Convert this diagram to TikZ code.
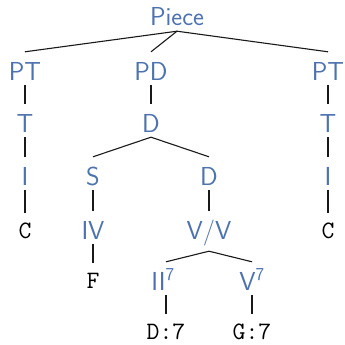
\documentclass[tikz,border=0pt]{standalone}
\usepackage{fontspec}
\definecolor{nodeblue}{RGB}{76,114,176}
\begin{document}
\begin{tikzpicture}[x=1pt,y=-1pt,
  inner/.style={anchor=base,inner sep=0pt,text height=28pt,text depth=5pt,
    text=nodeblue,font=\sffamily\fontsize{26}{30}\selectfont},
  leaf/.style={anchor=base,inner sep=0pt,text height=25pt,text depth=3pt,
    text=black,font=\ttfamily\fontsize{25}{30}\selectfont},
  edge/.style={draw=black!90,line width=1.1pt}]
\useasboundingbox (0,0) rectangle (345,345);
% row 1
\node[inner] (piece) at (177,26) {Piece};
% row 2
\node[inner] (ptl) at (25,80) {PT};
\node[inner] (pd) at (151,80) {PD};
\node[inner] (ptr) at (328,80) {PT};
% row 3
\node[inner] (tl) at (25,132) {T};
\node[inner] (d1) at (151,132) {D};
\node[inner] (tr) at (328,132) {T};
% row 4
\node[inner] (il) at (25,185) {I};
\node[inner] (s) at (93,185) {S};
\node[inner] (d2) at (209,185) {D};
\node[inner] (ir) at (328,185) {I};
% row 5
\node[leaf] (cl) at (25,238) {C};
\node[inner] (iv) at (93,239) {IV};
\node[inner,text depth=12pt] (vv) at (209,239) {V/V};
\node[leaf] (cr) at (328,238) {C};
% row 6
\node[leaf] (f) at (93,288) {F};
\node[inner] (ii7) at (163,290) {II\textsuperscript{7}};
\node[inner] (v7) at (252,290) {V\textsuperscript{7}};
% row 7
\node[leaf] (d7) at (166,339) {D:7};
\node[leaf] (g7) at (252,339) {G:7};
% edges
\draw[edge] (piece.south) -- (ptl.north);
\draw[edge] (piece.south) -- (pd.north);
\draw[edge] (piece.south) -- (ptr.north);
\draw[edge] (ptl.south) -- (tl.north);
\draw[edge] (pd.south) -- (d1.north);
\draw[edge] (ptr.south) -- (tr.north);
\draw[edge] (tl.south) -- (il.north);
\draw[edge] (d1.south) -- (s.north);
\draw[edge] (d1.south) -- (d2.north);
\draw[edge] (tr.south) -- (ir.north);
\draw[edge] (il.south) -- (cl.north);
\draw[edge] (s.south) -- (iv.north);
\draw[edge] (d2.south) -- (vv.north);
\draw[edge] (ir.south) -- (cr.north);
\draw[edge] (iv.south) -- (f.north);
\draw[edge] (vv.south) -- (ii7.north -| d7.north);
\draw[edge] (vv.south) -- (v7.north);
\draw[edge] (ii7.south -| d7.north) -- (d7.north);
\draw[edge] (v7.south) -- (g7.north);
\end{tikzpicture}
\end{document}
